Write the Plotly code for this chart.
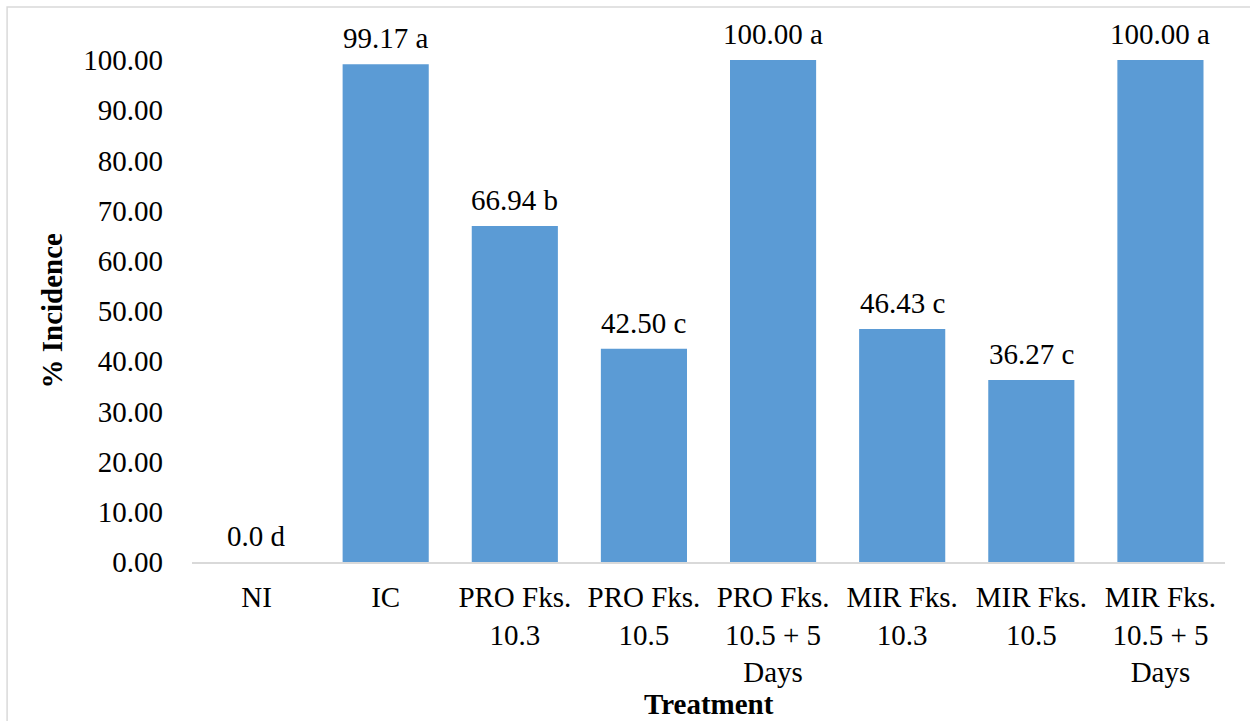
import plotly.graph_objects as go

# Treatment groups and mean % incidence with significance letters
treatments = [
    "NI",
    "IC",
    "PRO Fks.<br>10.3",
    "PRO Fks.<br>10.5",
    "PRO Fks.<br>10.5 + 5<br>Days",
    "MIR Fks.<br>10.3",
    "MIR Fks.<br>10.5",
    "MIR Fks.<br>10.5 + 5<br>Days",
]
incidence = [0.0, 99.17, 66.94, 42.50, 100.00, 46.43, 36.27, 100.00]
letters = ["d", "a", "b", "c", "a", "c", "c", "a"]
y_ticks = [0, 10, 20, 30, 40, 50, 60, 70, 80, 90, 100]

FONT = "Times New Roman"
BAR = "#5B9BD5"

fig = go.Figure()
fig.add_trace(go.Bar(
    x=treatments,
    y=incidence,
    marker=dict(color=BAR, line=dict(width=0)),
    width=0.667,
    hoverinfo="x+y",
))

# value labels above each bar
for t, v, l in zip(treatments, incidence, letters):
    txt = f"{v:.1f} {l}" if v == 0 else f"{v:.2f} {l}"
    fig.add_annotation(
        x=t, y=v, text=txt, showarrow=False,
        xanchor="center", yanchor="bottom", yshift=8,
        font=dict(family=FONT, size=29, color="#000000"),
    )

# axis titles
fig.add_annotation(
    xref="paper", yref="paper", x=0.5, y=-0.283,
    text="<b>Treatment</b>", showarrow=False,
    xanchor="center", yanchor="middle",
    font=dict(family=FONT, size=29, color="#000000"),
)
fig.add_annotation(
    xref="paper", yref="paper", x=-0.136, y=0.5,
    text="<b>% Incidence</b>", showarrow=False, textangle=-90,
    xanchor="center", yanchor="middle",
    font=dict(family=FONT, size=29, color="#000000"),
)

# chart frame
fig.add_shape(
    type="rect", xref="paper", yref="paper",
    x0=-0.179, x1=1.2, y0=-0.5, y1=1.1056,
    line=dict(color="#d9d9d9", width=1.5), fillcolor="rgba(0,0,0,0)",
    layer="below",
)

fig.update_layout(
    width=1250, height=721,
    margin=dict(l=192, r=25, t=60, b=159),
    paper_bgcolor="#ffffff", plot_bgcolor="#ffffff",
    bargap=0.333,
    showlegend=False,
    font=dict(family=FONT, size=29, color="#000000"),
    xaxis=dict(
        showgrid=False, showline=True, linecolor="#d9d9d9", linewidth=2,
        ticks="", tickfont=dict(family=FONT, size=29, color="#000000"),
        ticklabelstandoff=8,
    ),
    yaxis=dict(
        range=[0, 100], tickvals=y_ticks,
        ticktext=[f"{v:.2f}" for v in y_ticks],
        showgrid=False, showline=False, zeroline=False, ticks="",
        tickfont=dict(family=FONT, size=29, color="#000000"),
        ticklabelstandoff=28,
    ),
)

fig.write_html("out.html")
